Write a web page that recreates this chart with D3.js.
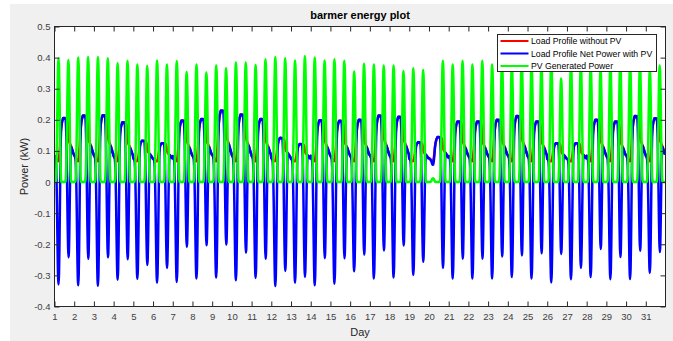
<!DOCTYPE html>
<html>
<head>
<meta charset="utf-8">
<script src="https://cdn.jsdelivr.net/npm/d3@7"></script>
<style>
    body { margin: 0; background: #fff; }
    svg { display: block; font-family: "Liberation Sans", Arial, sans-serif; }
</style>
</head>
<body>
<svg id="chart" width="673" height="341"></svg>
<script>
const chartTitle = 'barmer energy plot';
const xLabel = 'Day';
const yLabel = 'Power (kW)';
const seriesNames = ['Load Profile without PV', 'Load Profile Net Power with PV', 'PV Generated Power'];
const seriesColors = ['#ff0000', '#0000ff', '#00ff00'];

const dayTicks = d3.range(1, 32);
const powerTicks = [-0.4, -0.3, -0.2, -0.1, 0, 0.1, 0.2, 0.3, 0.4, 0.5];

const samplesPerDay = 48; // half-hour samples

// peak of each PV bell (two per day)
const pvPeaks = [
    0.397, 0.392, 0.400, 0.402, 0.402, 0.398, 0.382, 0.390, 0.378, 0.373,
    0.391, 0.378, 0.389, 0.354, 0.378, 0.352, 0.375, 0.366, 0.384, 0.384,
    0.376, 0.395, 0.402, 0.398, 0.391, 0.405, 0.400, 0.391, 0.395, 0.390,
    0.355, 0.380, 0.378, 0.375, 0.375, 0.357, 0.366, 0.360, 0.012, 0.390,
    0.378, 0.390, 0.378, 0.390, 0.378, 0.386, 0.373, 0.390, 0.378, 0.373,
    0.390, 0.333, 0.380, 0.378, 0.373, 0.362, 0.380, 0.385, 0.380, 0.375,
    0.360, 0.375
];
// shape of one PV bell over half a day (24 samples), relative to its peak
const pvShape = [0, 0, 0, 0.01, 0.06, 0.17, 0.36, 0.60, 0.82, 0.96, 1, 0.93,
    0.76, 0.52, 0.28, 0.10, 0.02, 0, 0, 0, 0, 0, 0, 0];

// daily load maximum (kW), day 1..31
const loadHigh = [
    0.206, 0.214, 0.215, 0.192, 0.133, 0.125, 0.198, 0.203, 0.230, 0.217,
    0.203, 0.142, 0.122, 0.199, 0.197, 0.200, 0.214, 0.210, 0.128, 0.145,
    0.195, 0.195, 0.200, 0.212, 0.195, 0.125, 0.125, 0.200, 0.195, 0.212,
    0.205
];
const loadLow = 0.067;
// daily load shape (48 samples), 0 = loadLow, 1 = loadHigh
const loadShape = [
    0.13, 0.116, 0.094, 0.08, 0.065, 0.05, 0.036, 0.022, 0.007, 0, 0.007, 0.06,
    0.17, 0.31, 0.49, 0.64, 0.75, 0.82, 0.89, 0.93, 0.96, 1, 0.99, 1,
    1, 0.98, 0.99, 1, 0.99, 0.98, 0.97, 0.95, 0.88, 0.75, 0.60, 0.50,
    0.45, 0.42, 0.40, 0.38, 0.36, 0.33, 0.30, 0.27, 0.24, 0.21, 0.18, 0.155
];

const rows = [];
for (let j = 0; j < dayTicks.length * samplesPerDay; j++) {
    const pv = pvPeaks[Math.floor(j / 24)] * pvShape[j % 24];
    const hi = loadHigh[Math.floor(j / samplesPerDay)];
    const load = loadLow + (hi - loadLow) * loadShape[j % samplesPerDay];
    rows.push({ t: 1 + j / samplesPerDay, load: load, net: load - pv, pv: pv });
}

const svg = d3.select('#chart');
const W = 673, H = 341;
const plot = { left: 54.5, right: 665.5, top: 26.5, bottom: 306.5 };

svg.append('rect').attr('x', 10).attr('y', 4).attr('width', W - 10).attr('height', H - 4).attr('fill', '#f0f0f0');
svg.append('rect')
    .attr('x', plot.left).attr('y', plot.top)
    .attr('width', plot.right - plot.left).attr('height', plot.bottom - plot.top)
    .attr('fill', '#fff');

const x = d3.scaleLinear().domain([1, 32]).range([plot.left, plot.right]);
const y = d3.scaleLinear().domain([-0.4, 0.5]).range([plot.bottom, plot.top]);

svg.append('clipPath').attr('id', 'clip')
    .append('rect')
    .attr('x', plot.left).attr('y', plot.top)
    .attr('width', plot.right - plot.left).attr('height', plot.bottom - plot.top);

const lines = svg.append('g').attr('clip-path', 'url(#clip)');
['load', 'net', 'pv'].forEach((key, i) => {
    lines.append('path')
        .datum(rows)
        .attr('fill', 'none')
        .attr('stroke', seriesColors[i])
        .attr('stroke-width', 2.5)
        .attr('stroke-linejoin', 'round')
        .attr('d', d3.line()
            .x(d => x(d.t))
            .y(d => y(d[key]))
            .curve(d3.curveMonotoneX));
});

const axisColor = '#262626';
const fmt = d => String(+d.toFixed(1));

function styleAxis(g) {
    g.select('.domain').remove();
    g.selectAll('.tick line').attr('stroke', axisColor);
    g.selectAll('.tick text').attr('fill', '#404040').style('font-size', '9.5px');
}

svg.append('g').attr('transform', `translate(0,${plot.bottom})`)
    .call(d3.axisBottom(x).tickValues(dayTicks).tickSizeInner(-5).tickSizeOuter(0).tickPadding(7).tickFormat(d3.format('d')))
    .call(styleAxis);
svg.append('g').attr('transform', `translate(0,${plot.top})`)
    .call(d3.axisTop(x).tickValues(dayTicks).tickSizeInner(-5).tickSizeOuter(0).tickFormat(''))
    .call(styleAxis);
svg.append('g').attr('transform', `translate(${plot.left},0)`)
    .call(d3.axisLeft(y).tickValues(powerTicks).tickSizeInner(-5).tickSizeOuter(0).tickPadding(4).tickFormat(fmt))
    .call(styleAxis);
svg.append('g').attr('transform', `translate(${plot.right},0)`)
    .call(d3.axisRight(y).tickValues(powerTicks).tickSizeInner(-5).tickSizeOuter(0).tickFormat(''))
    .call(styleAxis);

svg.append('rect')
    .attr('x', plot.left).attr('y', plot.top)
    .attr('width', plot.right - plot.left).attr('height', plot.bottom - plot.top)
    .attr('fill', 'none').attr('stroke', axisColor).attr('stroke-width', 1);

svg.append('text')
    .attr('x', (plot.left + plot.right) / 2).attr('y', 19)
    .attr('text-anchor', 'middle')
    .style('font-size', '11px').style('font-weight', 'bold').attr('fill', '#000')
    .text(chartTitle);

svg.append('text')
    .attr('x', (plot.left + plot.right) / 2).attr('y', 336)
    .attr('text-anchor', 'middle')
    .style('font-size', '11px').attr('fill', '#262626')
    .text(xLabel);

svg.append('text')
    .attr('transform', `translate(28,${(plot.top + plot.bottom) / 2}) rotate(-90)`)
    .attr('text-anchor', 'middle')
    .style('font-size', '11px').attr('fill', '#262626')
    .text(yLabel);

// legend
const legend = svg.append('g').attr('transform', 'translate(497.5,34.5)');
legend.append('rect').attr('width', 159).attr('height', 37)
    .attr('fill', '#fff').attr('stroke', axisColor).attr('stroke-width', 1);
seriesNames.forEach((name, i) => {
    const row = legend.append('g').attr('transform', `translate(0,${6.5 + i * 12.5})`);
    row.append('line').attr('x1', 3).attr('x2', 31).attr('y1', 0).attr('y2', 0)
        .attr('stroke', seriesColors[i]).attr('stroke-width', 2);
    row.append('text').attr('x', 33.5).attr('y', 3.2)
        .style('font-size', '8.7px').attr('fill', '#000')
        .text(name);
});
</script>
</body>
</html>
